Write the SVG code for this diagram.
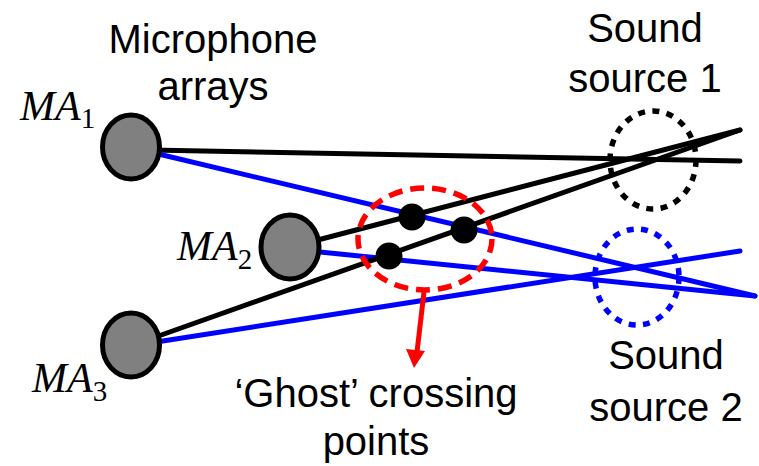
<svg xmlns="http://www.w3.org/2000/svg" width="759" height="466" viewBox="0 0 759 466">
  <defs>
    <style>
      .lbl { font-family: "Liberation Sans", Arial, sans-serif; font-size: 40px; fill: #000; text-anchor: middle; }
      .math { font-family: "Liberation Serif", "Times New Roman", serif; font-style: italic; font-size: 42px; fill: #000; }
      .sub { font-family: "Liberation Serif", "Times New Roman", serif; font-style: normal; font-size: 29px; }
      .array { fill: #808080; stroke: #000; stroke-width: 5; }
      .ray { stroke-width: 5; stroke-linecap: round; fill: none; }
      .black { stroke: #000; }
      .blue { stroke: #0000ff; }
      .ghost { fill: #000; }
      .src { fill: none; stroke-width: 5.5; stroke-dasharray: 7 7.4; }
    </style>
  </defs>

  <!-- source regions -->
  <g id="source1">
    <ellipse class="src" cx="653" cy="160" rx="43" ry="49" stroke="#000"/>
    <text class="lbl" x="645" y="42">Sound</text>
    <text class="lbl" x="645" y="92">source 1</text>
  </g>
  <g id="source2">
    <ellipse class="src" cx="637" cy="277" rx="42" ry="48" stroke="#0000ff"/>
    <text class="lbl" x="666" y="369">Sound</text>
    <text class="lbl" x="666" y="421">source 2</text>
  </g>

  <!-- bearing lines from each array -->
  <g id="connectors">
    <line class="ray black" x1="150" y1="150" x2="740" y2="161"/>
    <line class="ray blue" x1="150" y1="152" x2="755" y2="296"/>
    <line class="ray black" x1="310" y1="242" x2="740" y2="130"/>
    <line class="ray blue" x1="310" y1="251" x2="755" y2="296"/>
    <line class="ray black" x1="150" y1="339" x2="740" y2="130"/>
    <line class="ray blue" x1="150" y1="343" x2="740" y2="251"/>
  </g>

  <!-- microphone arrays -->
  <g id="ma1">
    <ellipse class="array" cx="131" cy="147" rx="28.5" ry="32"/>
    <text class="math" x="20" y="120">MA<tspan class="sub" dy="8">1</tspan></text>
  </g>
  <g id="ma2">
    <ellipse class="array" cx="290" cy="247" rx="29" ry="32"/>
    <text class="math" x="177" y="260">MA<tspan class="sub" dy="9">2</tspan></text>
  </g>
  <g id="ma3">
    <ellipse class="array" cx="131" cy="345" rx="28.5" ry="32"/>
    <text class="math" x="32" y="392">MA<tspan class="sub" dy="9">3</tspan></text>
  </g>
  <g id="title">
    <text class="lbl" x="213" y="53">Microphone</text>
    <text class="lbl" x="213" y="100">arrays</text>
  </g>

  <!-- ghost crossing points -->
  <g id="ghosts">
    <ellipse cx="425" cy="239" rx="67" ry="51" fill="none" stroke="#ff0000" stroke-width="5.5" stroke-dasharray="14 8"/>
    <circle class="ghost" cx="412" cy="217" r="13.5"/>
    <circle class="ghost" cx="464" cy="230" r="13.5"/>
    <circle class="ghost" cx="389" cy="256" r="13.5"/>
    <line x1="424" y1="292" x2="417" y2="352" stroke="#ff0000" stroke-width="5"/>
    <polygon points="406,349 425,351 414,368" fill="#ff0000"/>
    <text class="lbl" x="376" y="407">‘Ghost’ crossing</text>
    <text class="lbl" x="376" y="455">points</text>
  </g>
</svg>
